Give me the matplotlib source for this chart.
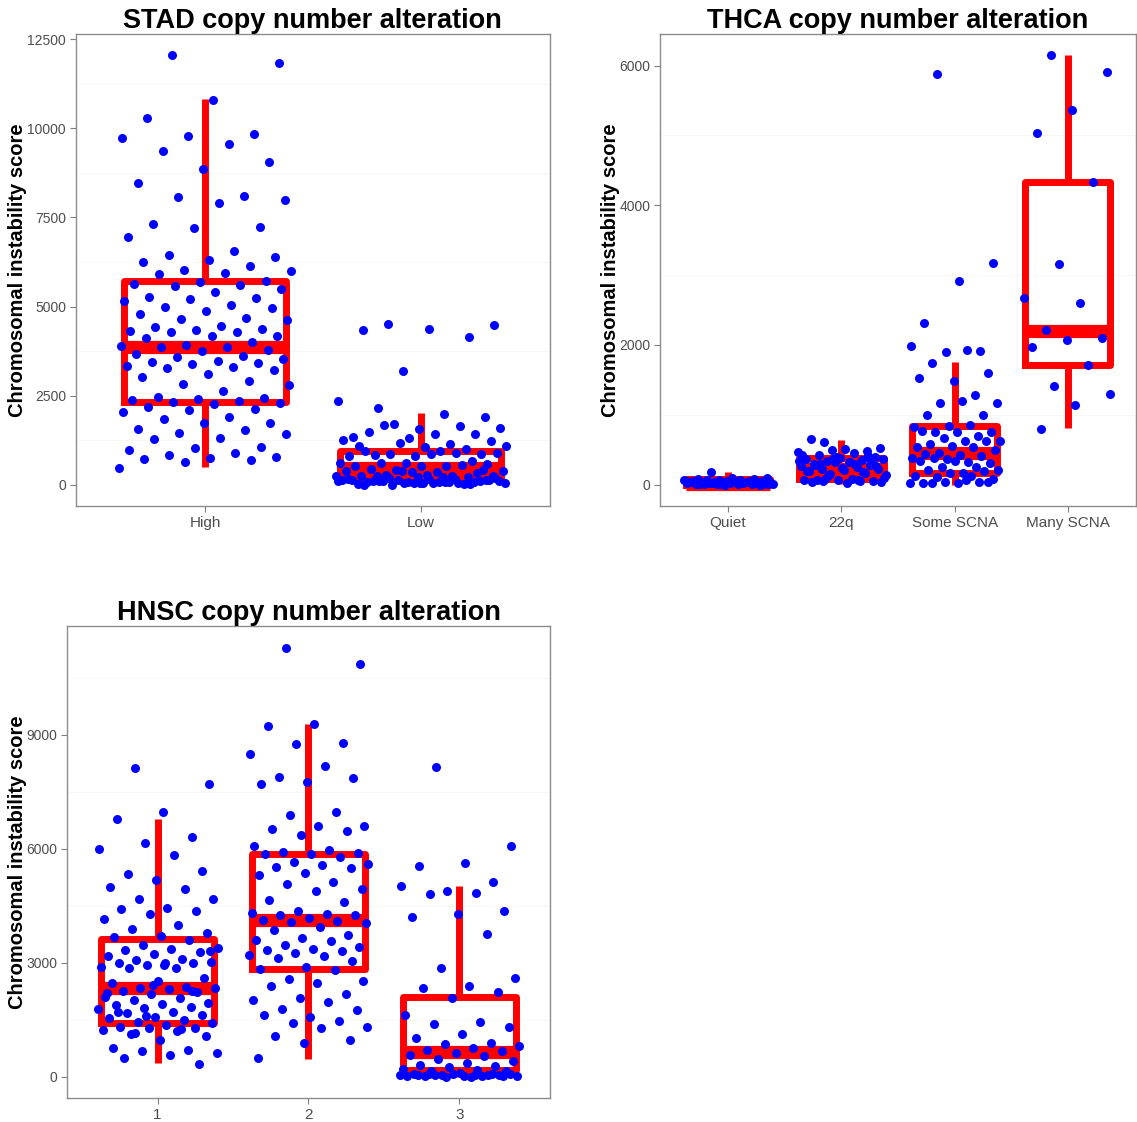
import matplotlib

matplotlib.use("Agg")
import matplotlib.pyplot as plt
import numpy as np

plt.rcParams["font.family"] = ["Liberation Sans", "DejaVu Sans"]

# ---- data ----
stad_groups = ["High", "Low"]
stad_high = [
    12050, 11830, 10800, 10280, 9840, 9790, 9740, 9550, 9360, 9060, 8860, 8480, 8100, 8080,
    7980, 7900, 7320, 7230, 7200, 6940, 6560, 6450, 6400, 6320, 6240, 6140, 6030, 6000, 5930,
    5900, 5730, 5690, 5630, 5610, 5590, 5480, 5420, 5260, 5230, 5210, 5150, 5050, 5000, 4950,
    4870, 4790, 4690, 4640, 4620, 4450, 4420, 4370, 4350, 4310, 4290, 4280, 4180, 4160, 4110,
    4010, 3920, 3900, 3870, 3850, 3770, 3740, 3680, 3600, 3580, 3540, 3480, 3440, 3400, 3380,
    3340, 3310, 3270, 3210, 3100, 3020, 2900, 2830, 2800, 2640, 2470, 2440, 2390, 2370, 2350,
    2330, 2300, 2250, 2170, 2110, 2080, 2030, 1890, 1840, 1740, 1720, 1570, 1520, 1450, 1420,
    1300, 1280, 1060, 1020, 970, 900, 840, 770, 750, 720, 680, 630, 470,
]
stad_low = [
    4520, 4490, 4380, 4330, 4140, 3200, 2360, 1990, 2160, 1900, 1560, 1340, 1640, 1710, 1600,
    1410, 1480, 1430, 1320, 1250, 1140, 1670, 1220, 1050, 1070, 1000, 1180, 1070, 940, 820,
    850, 790, 810, 900, 860, 880, 860, 930, 650, 600, 600, 530, 600, 570, 530, 530, 560, 400,
    370, 340, 430, 320, 340, 370, 250, 260, 230, 280, 240, 220, 370, 230, 210, 240, 420, 200,
    140, 30, 0, 90, 50, 60, 80, 70, 120, 60, 100, 140, 50, 10, 20, 130, 40, 60, 110, 90,
    30, 150, 170, 180, 190, 160, 0, 20, 40, 110, 70, 100, 130, 50,
]
stad_stats = {
    "whislo": [500, 0], "q1": [2320, 185], "med": [3860, 470],
    "q3": [5730, 935], "whishi": [10820, 2010],
}
stad_ticks = [0, 2500, 5000, 7500, 10000, 12500]

thca_groups = ["Quiet", "22q", "Some SCNA", "Many SCNA"]
thca_quiet = [
    182, 95, 88, 80, 75, 70, 62, 60, 55, 52, 50, 48, 45, 42, 40, 38, 35, 33, 30, 28, 25, 22,
    20, 18, 15, 12, 10, 8, 5, 3, 0, 0, 30, 40, 20, 10, 50, 15, 25, 5, 45, 35, 65, 12,
]
thca_22q = [
    612, 526, 507, 646, 478, 493, 469, 445, 430, 397, 382, 373, 349, 335, 364, 325, 301, 277,
    316, 268, 253, 229, 220, 205, 191, 172, 157, 143, 86, 62, 47, 62, 62, 55, 76, 38, 29, 38,
    410, 360, 340, 300, 290, 260, 240, 200, 180, 120, 100, 330, 280, 350, 390, 420, 70, 45,
]
thca_some = [
    5881, 3177, 2914, 2316, 1914, 1895, 1990, 1928, 1747, 1598, 1479, 1522, 1282, 1172, 1172,
    1191, 1000, 1000, 842, 823, 857, 751, 755, 751, 761, 699, 665, 627, 630, 584, 617, 555,
    536, 536, 450, 488, 421, 440, 402, 368, 378, 330, 380, 306, 344, 335, 258, 249, 211, 163,
    211, 196, 170, 124, 120, 115, 77, 29, 29, 43, 40, 19, 67, 29, 35,
]
thca_many = [
    6144, 5914, 5369, 5039, 4335, 3153, 2670, 2593, 2206, 2100, 2072, 1967, 1708, 1416, 1297,
    1134, 799,
]
thca_stats = {
    "whislo": [0, 10, 0, 805], "q1": [0, 80, 165, 1715], "med": [5, 225, 450, 2205],
    "q3": [80, 380, 835, 4335], "whishi": [180, 645, 1750, 6150],
}
thca_ticks = [0, 2000, 4000, 6000]

hnsc_groups = ["1", "2", "3"]
hnsc_1 = [
    8121, 7702, 6974, 6783, 6301, 6144, 5995, 5838, 5348, 5427, 5191, 5007, 4946, 4684, 4666,
    4439, 4421, 4360, 4272, 4150, 4001, 3879, 3791, 3704, 3678, 3608, 3459, 3398, 3372, 3346,
    3284, 3241, 3180, 3109, 3066, 3022, 3005, 2990, 2985, 2934, 2891, 2865, 2847, 2585, 2524,
    2454, 2367, 2340, 2323, 2305, 2262, 2235, 2165, 2104, 2060, 2017, 1929, 1912, 1886, 1842,
    1816, 1781, 1711, 1667, 1624, 1580, 1536, 1493, 1449, 1405, 1361, 1318, 1292, 1274, 1230,
    1187, 1117, 1056, 968, 750, 706, 662, 619, 575, 488, 330, 2400, 2200, 1250, 1150, 3300,
    2950, 1700, 2250, 1600,
]
hnsc_2 = [
    11305, 10877, 9294, 9250, 8786, 8768, 8506, 8174, 7902, 7876, 7762, 7701, 6984, 6896,
    6607, 6607, 6520, 6459, 6371, 6065, 5968, 5925, 5881, 5870, 5860, 5776, 5662, 5592, 5575,
    5514, 5487, 5356, 5312, 5137, 5067, 4936, 4893, 4657, 4587, 4351, 4307, 4281, 4263, 4246,
    4176, 4132, 4089, 4062, 4045, 3940, 3870, 3722, 3652, 3608, 3564, 3477, 3407, 3372, 3346,
    3302, 3259, 3215, 3171, 3127, 3057, 2882, 2821, 2815, 2576, 2515, 2472, 2384, 2165, 2078,
    2008, 1973, 1772, 1754, 1571, 1615, 1467, 1405, 1318, 1292, 1056, 960, 872, 479,
]
hnsc_3 = [
    8157, 6074, 5637, 5541, 5121, 4876, 5033, 4842, 4807, 4361, 4282, 4212, 3766, 2873, 2584,
    2392, 2322, 2235, 2060, 1623, 1430, 1378, 1317, 1124, 1028, 879, 853, 809, 748, 704, 660,
    617, 573, 529, 468, 398, 354, 311, 267, 241, 206, 179, 153, 136, 92, 66, 48, 31, 10, 0,
    20, 40, 60, 5, 25, 50, 70, 15, 35, 80, 0, 45, 30, 55, 12,
]
hnsc_stats = {
    "whislo": [350, 460, 0], "q1": [1420, 2830, 175], "med": [2320, 4130, 640],
    "q3": [3620, 5860, 2095], "whishi": [6780, 9290, 5030],
}
hnsc_ticks = [0, 3000, 6000, 9000]


def _jitter(n, width=0.4):
    # evenly spread, deterministic horizontal jitter
    return ((np.arange(n) * 0.6180339887 + 0.31) % 1.0) * 2 * width - width


def _panel(ax, title, groups, values, stats, ticks, label_x):
    n = len(groups)
    box_stats = []
    for i in range(n):
        box_stats.append(
            {
                "whislo": stats["whislo"][i], "q1": stats["q1"][i], "med": stats["med"][i],
                "q3": stats["q3"][i], "whishi": stats["whishi"][i], "fliers": [],
            }
        )
    red = "#FF0000"
    ax.bxp(
        box_stats,
        positions=np.arange(1, n + 1),
        widths=0.75,
        showcaps=False,
        showfliers=False,
        boxprops=dict(color=red, linewidth=5.0),
        whiskerprops=dict(color=red, linewidth=5.0, solid_capstyle="butt"),
        medianprops=dict(color=red, linewidth=9.5, solid_capstyle="butt"),
        zorder=2,
    )
    for i, vals in enumerate(values):
        vals = np.asarray(vals, dtype=float)
        xs = i + 1 + _jitter(len(vals))
        ax.scatter(xs, vals, s=42, color="#0000FF", linewidths=0, zorder=3)

    allv = np.concatenate([np.asarray(v, dtype=float) for v in values])
    lo, hi = allv.min(), allv.max()
    pad = (hi - lo) * 0.05
    ax.set_ylim(lo - pad, hi + pad)
    ax.set_xlim(0.4, n + 0.6)
    ax.set_xticks(np.arange(1, n + 1))
    ax.set_xticklabels(groups, fontsize=11, color="#4D4D4D")
    ax.set_yticks(ticks)
    ax.set_yticklabels([str(t) for t in ticks], fontsize=10, color="#4D4D4D")
    step = ticks[1] - ticks[0]
    for m in np.arange(ticks[0] - step / 2, hi + pad, step):
        if m > lo - pad:
            ax.axhline(m, color="#F7F7F7", linewidth=0.8, zorder=0)
    ax.tick_params(axis="both", length=4, width=0.8, color="#7F7F7F", pad=3)
    for sp in ax.spines.values():
        sp.set_color("#8C8C8C")
        sp.set_linewidth(1.0)
    ax.set_ylabel("Chromosomal instability score", fontsize=14.5, fontweight="bold")
    ax.yaxis.set_label_coords(label_x, 0.5)
    ax.set_title(title, fontsize=19.5, fontweight="bold", pad=3)


fig = plt.figure(figsize=(11.37, 11.22), dpi=100)
ax1 = fig.add_axes([0.0666, 0.549, 0.4171, 0.4207])
ax2 = fig.add_axes([0.5805, 0.549, 0.4185, 0.4207])
ax3 = fig.add_axes([0.0589, 0.0214, 0.4248, 0.4206])

_panel(ax1, "STAD copy number alteration", stad_groups, [stad_high, stad_low], stad_stats,
       stad_ticks, -0.103)
_panel(ax2, "THCA copy number alteration", thca_groups,
       [thca_quiet, thca_22q, thca_some, thca_many], thca_stats, thca_ticks, -0.084)
_panel(ax3, "HNSC copy number alteration", hnsc_groups, [hnsc_1, hnsc_2, hnsc_3], hnsc_stats,
       hnsc_ticks, -0.083)

fig.savefig("out.png", dpi=100)
